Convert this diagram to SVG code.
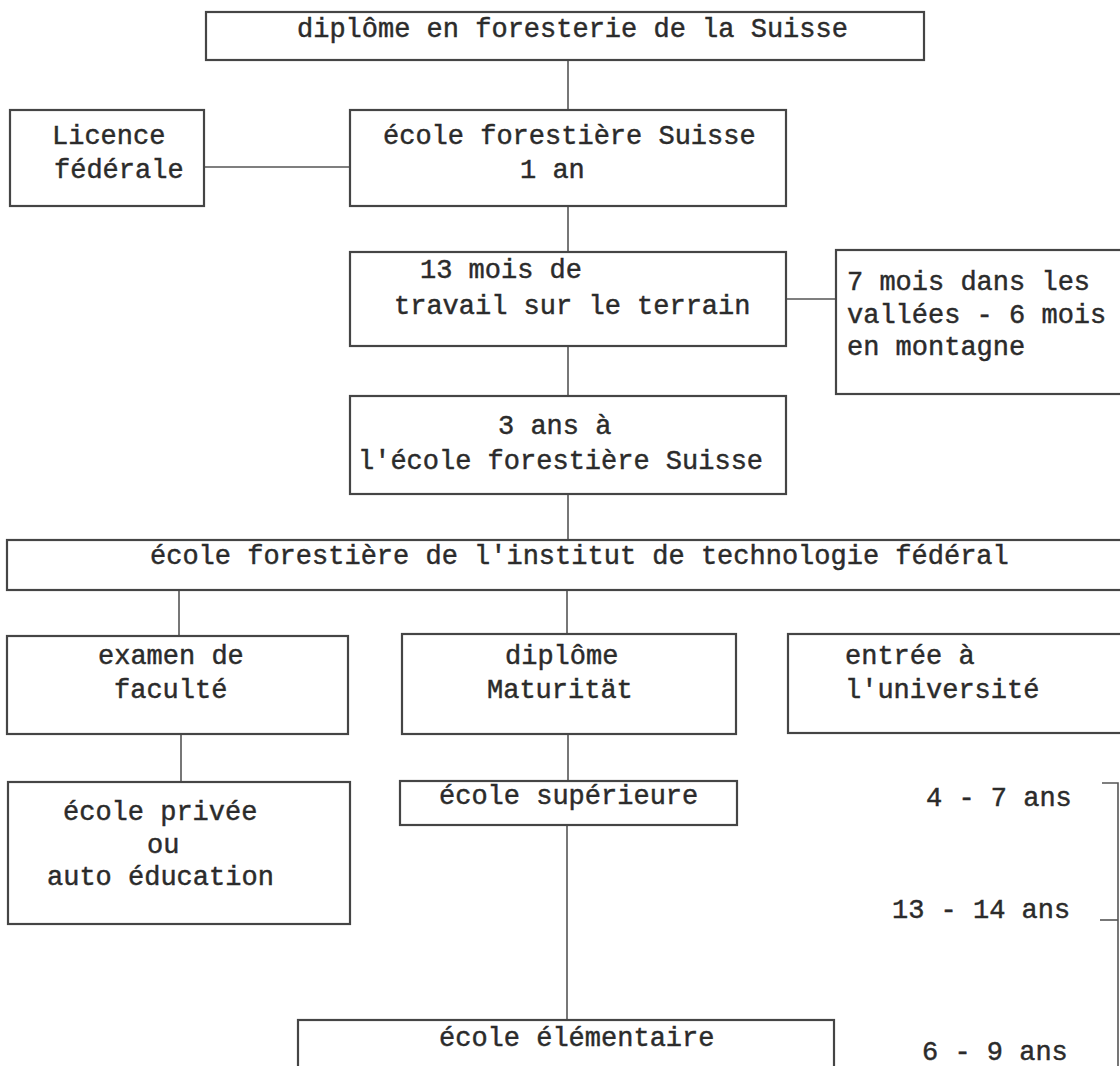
<svg xmlns="http://www.w3.org/2000/svg" width="1120" height="1066" viewBox="0 0 1120 1066">
  <style>
    .box { fill: #ffffff; stroke: #454545; stroke-width: 2.2; }
    .link { stroke: #555555; stroke-width: 1.6; fill: none; }
    text { font-family: "Liberation Mono", "Courier New", monospace; font-size: 27px; fill: #2b2b2b; stroke: #2b2b2b; stroke-width: 0.45; }
  </style>
  <rect width="1120" height="1066" fill="#ffffff"/>

  <!-- connectors -->
  <g id="connectors">
    <line class="link" x1="568" y1="60" x2="568" y2="110"/>
    <line class="link" x1="204" y1="167" x2="350" y2="167"/>
    <line class="link" x1="568" y1="206" x2="568" y2="252"/>
    <line class="link" x1="786" y1="299" x2="836" y2="299"/>
    <line class="link" x1="568" y1="346" x2="568" y2="396"/>
    <line class="link" x1="568" y1="494" x2="568" y2="540"/>
    <line class="link" x1="179" y1="590" x2="179" y2="636"/>
    <line class="link" x1="567" y1="590" x2="567" y2="634"/>
    <line class="link" x1="181" y1="734" x2="181" y2="782"/>
    <line class="link" x1="568" y1="734" x2="568" y2="781"/>
    <line class="link" x1="567" y1="825" x2="567" y2="1020"/>
    <!-- age bracket on the right -->
    <polyline class="link" points="1102,783 1118,783 1118,1066"/>
    <line class="link" x1="1100" y1="920" x2="1118" y2="920"/>
  </g>

  <g id="diplome-foresterie">
    <rect class="box" x="206" y="12" width="718" height="48"/>
    <text x="297" y="37">diplôme en foresterie de la Suisse</text>
  </g>

  <g id="licence">
    <rect class="box" x="10" y="110" width="194" height="96"/>
    <text x="52" y="144">Licence</text>
    <text x="54" y="178">fédérale</text>
  </g>

  <g id="ecole-1an">
    <rect class="box" x="350" y="110" width="436" height="96"/>
    <text x="383" y="144">école forestière Suisse</text>
    <text x="520" y="178">1 an</text>
  </g>

  <g id="travail-terrain">
    <rect class="box" x="350" y="252" width="436" height="94"/>
    <text x="420" y="278">13 mois de</text>
    <text x="394" y="314">travail sur le terrain</text>
  </g>

  <g id="vallees-montagne">
    <rect class="box" x="836" y="250" width="300" height="144"/>
    <text x="847" y="290">7 mois dans les</text>
    <text x="847" y="323">vallées - 6 mois</text>
    <text x="847" y="355">en montagne</text>
  </g>

  <g id="trois-ans">
    <rect class="box" x="350" y="396" width="436" height="98"/>
    <text x="498" y="434">3 ans à</text>
    <text x="358" y="469">l'école forestière Suisse</text>
  </g>

  <g id="institut-technologie">
    <rect class="box" x="7" y="540" width="1130" height="50"/>
    <text x="150" y="564">école forestière de l'institut de technologie fédéral</text>
  </g>

  <g id="examen-faculte">
    <rect class="box" x="7" y="636" width="341" height="98"/>
    <text x="98" y="664">examen de</text>
    <text x="114" y="698">faculté</text>
  </g>

  <g id="diplome-maturitat">
    <rect class="box" x="402" y="634" width="334" height="100"/>
    <text x="505" y="664">diplôme</text>
    <text x="487" y="698">Maturität</text>
  </g>

  <g id="entree-universite">
    <rect class="box" x="788" y="634" width="347" height="99"/>
    <text x="845" y="664">entrée à</text>
    <text x="845" y="698">l'université</text>
  </g>

  <g id="ecole-privee">
    <rect class="box" x="8" y="782" width="342" height="142"/>
    <text x="63" y="820">école privée</text>
    <text x="147" y="853">ou</text>
    <text x="47" y="885">auto éducation</text>
  </g>

  <g id="ecole-superieure">
    <rect class="box" x="400" y="781" width="337" height="44"/>
    <text x="439" y="804">école supérieure</text>
  </g>

  <g id="ecole-elementaire">
    <rect class="box" x="298" y="1020" width="536" height="60"/>
    <text x="439" y="1046">école élémentaire</text>
  </g>

  <g id="ages">
    <text x="926" y="806">4 - 7 ans</text>
    <text x="892" y="918">13 - 14 ans</text>
    <text x="922" y="1060">6 - 9 ans</text>
  </g>
</svg>
